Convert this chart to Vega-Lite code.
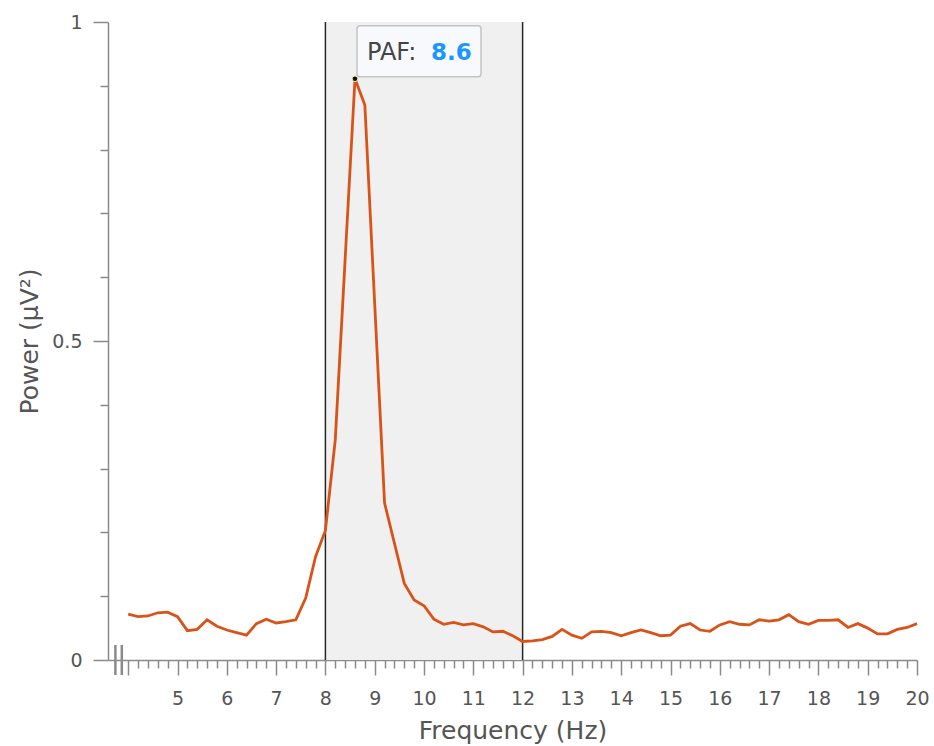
{
  "$schema": "https://vega.github.io/schema/vega-lite/v6.json",
  "width": 809,
  "height": 638,
  "padding": {"left": 108, "top": 22, "right": 17, "bottom": 86},
  "autosize": {"type": "none"},
  "background": "white",
  "config": {
    "view": {"stroke": null},
    "font": "DejaVu Sans",
    "axis": {
      "tickColor": "#8a8a8a", "tickWidth": 1.5,
      "domainColor": "#8a8a8a", "domainWidth": 1.5,
      "labelFont": "DejaVu Sans", "labelFontSize": 19, "labelColor": "#555555",
      "labelOverlap": false, "labelFlush": false, "labelBound": false,
      "titleFont": "DejaVu Sans", "titleFontSize": 25, "titleFontWeight": "normal", "titleColor": "#555555",
      "grid": false
    }
  },
  "resolve": {"axis": {"x": "independent", "y": "independent"}},
  "datasets": {
    "spectrum": [
      {"freq": 4.0, "power": 0.072}, {"freq": 4.2, "power": 0.068}, {"freq": 4.4, "power": 0.069}, {"freq": 4.6, "power": 0.074}, {"freq": 4.8, "power": 0.075},
      {"freq": 5.0, "power": 0.068}, {"freq": 5.2, "power": 0.046}, {"freq": 5.4, "power": 0.048}, {"freq": 5.6, "power": 0.063}, {"freq": 5.8, "power": 0.053},
      {"freq": 6.0, "power": 0.047}, {"freq": 6.2, "power": 0.043}, {"freq": 6.4, "power": 0.039}, {"freq": 6.6, "power": 0.057}, {"freq": 6.8, "power": 0.064},
      {"freq": 7.0, "power": 0.058}, {"freq": 7.2, "power": 0.060}, {"freq": 7.4, "power": 0.063}, {"freq": 7.6, "power": 0.097}, {"freq": 7.8, "power": 0.162},
      {"freq": 8.0, "power": 0.203}, {"freq": 8.2, "power": 0.345}, {"freq": 8.4, "power": 0.628}, {"freq": 8.6, "power": 0.911}, {"freq": 8.8, "power": 0.870},
      {"freq": 9.0, "power": 0.558}, {"freq": 9.2, "power": 0.246}, {"freq": 9.4, "power": 0.183}, {"freq": 9.6, "power": 0.120}, {"freq": 9.8, "power": 0.094},
      {"freq": 10.0, "power": 0.085}, {"freq": 10.2, "power": 0.064}, {"freq": 10.4, "power": 0.056}, {"freq": 10.6, "power": 0.059}, {"freq": 10.8, "power": 0.055},
      {"freq": 11.0, "power": 0.057}, {"freq": 11.2, "power": 0.052}, {"freq": 11.4, "power": 0.044}, {"freq": 11.6, "power": 0.045}, {"freq": 11.8, "power": 0.038},
      {"freq": 12.0, "power": 0.029}, {"freq": 12.2, "power": 0.030}, {"freq": 12.4, "power": 0.032}, {"freq": 12.6, "power": 0.037}, {"freq": 12.8, "power": 0.048},
      {"freq": 13.0, "power": 0.039}, {"freq": 13.2, "power": 0.034}, {"freq": 13.4, "power": 0.044}, {"freq": 13.6, "power": 0.045}, {"freq": 13.8, "power": 0.043},
      {"freq": 14.0, "power": 0.038}, {"freq": 14.2, "power": 0.043}, {"freq": 14.4, "power": 0.047}, {"freq": 14.6, "power": 0.043}, {"freq": 14.8, "power": 0.038},
      {"freq": 15.0, "power": 0.039}, {"freq": 15.2, "power": 0.053}, {"freq": 15.4, "power": 0.057}, {"freq": 15.6, "power": 0.047}, {"freq": 15.8, "power": 0.045},
      {"freq": 16.0, "power": 0.055}, {"freq": 16.2, "power": 0.060}, {"freq": 16.4, "power": 0.056}, {"freq": 16.6, "power": 0.055}, {"freq": 16.8, "power": 0.063},
      {"freq": 17.0, "power": 0.061}, {"freq": 17.2, "power": 0.063}, {"freq": 17.4, "power": 0.071}, {"freq": 17.6, "power": 0.060}, {"freq": 17.8, "power": 0.056},
      {"freq": 18.0, "power": 0.062}, {"freq": 18.2, "power": 0.062}, {"freq": 18.4, "power": 0.063}, {"freq": 18.6, "power": 0.051}, {"freq": 18.8, "power": 0.057},
      {"freq": 19.0, "power": 0.050}, {"freq": 19.2, "power": 0.041}, {"freq": 19.4, "power": 0.041}, {"freq": 19.6, "power": 0.048}, {"freq": 19.8, "power": 0.051},
      {"freq": 20.0, "power": 0.057}
    ],
    "band": [{"lo": 8, "hi": 12}],
    "paf": [{"freq": 8.6, "power": 0.911, "label": "PAF:"}],
    "breaks": [{"b": 3.74}, {"b": 3.87}]
  },
  "layer": [
    {
      "data": {"name": "band"},
      "mark": {"type": "rect", "fill": "#f0f0f0"},
      "encoding": {
        "x": {
          "field": "lo", "type": "quantitative",
          "scale": {"domain": [3.59, 20], "nice": false, "zero": false},
          "axis": {
            "orient": "bottom",
            "title": "Frequency (Hz)",
            "values": [4, 5, 6, 7, 8, 9, 10, 11, 12, 13, 14, 15, 16, 17, 18, 19, 20],
            "labelExpr": "datum.value >= 5 ? datum.label : ''",
            "tickSize": 15,
            "labelPadding": 14, "titlePadding": 10
          }
        },
        "x2": {"field": "hi"},
        "y": {
          "datum": 0, "type": "quantitative",
          "scale": {"domain": [0, 1], "nice": false, "zero": false},
          "axis": {
            "orient": "left",
            "title": "Power (μV²)",
            "values": [0, 0.5, 1],
            "labelExpr": "datum.value === 0 ? '0' : (datum.value === 0.5 ? '0.5' : '1')",
            "tickSize": 15,
            "labelPadding": 11, "titlePadding": 9
          }
        },
        "y2": {"datum": 1}
      }
    },
    {
      "data": {"name": "band"},
      "transform": [{"fold": ["lo", "hi"], "as": ["edge", "edgeFreq"]}],
      "mark": {"type": "rule", "color": "#262626", "strokeWidth": 1.5},
      "encoding": {
        "x": {"field": "edgeFreq", "type": "quantitative", "axis": null},
        "y": {"datum": 0, "type": "quantitative", "axis": null},
        "y2": {"datum": 1}
      }
    },
    {
      "data": {"name": "spectrum"},
      "mark": {"type": "line", "color": "#D95319", "strokeWidth": 2.8},
      "encoding": {
        "x": {
          "field": "freq", "type": "quantitative",
          "axis": {
            "orient": "bottom",
            "title": null,
            "values": [4.2, 4.4, 4.6, 4.8, 5.2, 5.4, 5.6, 5.8, 6.2, 6.4, 6.6, 6.8, 7.2, 7.4, 7.6, 7.8, 8.2, 8.4, 8.6, 8.8, 9.2, 9.4, 9.6, 9.8, 10.2, 10.4, 10.6, 10.8, 11.2, 11.4, 11.6, 11.8, 12.2, 12.4, 12.6, 12.8, 13.2, 13.4, 13.6, 13.8, 14.2, 14.4, 14.6, 14.8, 15.2, 15.4, 15.6, 15.8, 16.2, 16.4, 16.6, 16.8, 17.2, 17.4, 17.6, 17.8, 18.2, 18.4, 18.6, 18.8, 19.2, 19.4, 19.6, 19.8],
            "labels": false,
            "domain": false,
            "tickSize": 8
          }
        },
        "y": {
          "field": "power", "type": "quantitative",
          "axis": {
            "orient": "left",
            "title": null,
            "values": [0.1, 0.2, 0.3, 0.4, 0.6, 0.7, 0.8, 0.9],
            "labels": false,
            "domain": false,
            "tickSize": 8
          }
        }
      }
    },
    {
      "data": {"name": "breaks"},
      "mark": {"type": "rule", "color": "#8a8a8a", "strokeWidth": 2.5},
      "encoding": {
        "x": {"field": "b", "type": "quantitative", "axis": null},
        "y": {"datum": -0.0235, "type": "quantitative", "axis": null},
        "y2": {"datum": 0.0235}
      }
    },
    {
      "data": {"name": "paf"},
      "mark": {"type": "rect", "fill": "#f8f9fd", "stroke": "#c4c4c4", "strokeWidth": 1.5, "cornerRadius": 3, "xOffset": 2, "x2Offset": 126, "yOffset": -2, "y2Offset": -53},
      "encoding": {
        "x": {"field": "freq", "type": "quantitative", "axis": null},
        "x2": {"field": "freq"},
        "y": {"field": "power", "type": "quantitative", "axis": null},
        "y2": {"field": "power"}
      }
    },
    {
      "data": {"name": "paf"},
      "mark": {"type": "point", "filled": true, "fill": "#111111", "stroke": "#f5f0b0", "strokeWidth": 1, "size": 32, "opacity": 1},
      "encoding": {
        "x": {"field": "freq", "type": "quantitative", "axis": null},
        "y": {"field": "power", "type": "quantitative", "axis": null}
      }
    },
    {
      "data": {"name": "paf"},
      "mark": {"type": "text", "align": "left", "baseline": "alphabetic", "dx": 12, "dy": -19, "font": "DejaVu Sans", "fontSize": 24, "color": "#444444"},
      "encoding": {
        "x": {"field": "freq", "type": "quantitative", "axis": null},
        "y": {"field": "power", "type": "quantitative", "axis": null},
        "text": {"field": "label"}
      }
    },
    {
      "data": {"name": "paf"},
      "mark": {"type": "text", "align": "left", "baseline": "alphabetic", "dx": 76, "dy": -19, "font": "DejaVu Sans", "fontSize": 23, "fontWeight": "bold", "color": "#1a96ff"},
      "encoding": {
        "x": {"field": "freq", "type": "quantitative", "axis": null},
        "y": {"field": "power", "type": "quantitative", "axis": null},
        "text": {"field": "freq", "type": "quantitative", "format": ".1f"}
      }
    }
  ]
}
